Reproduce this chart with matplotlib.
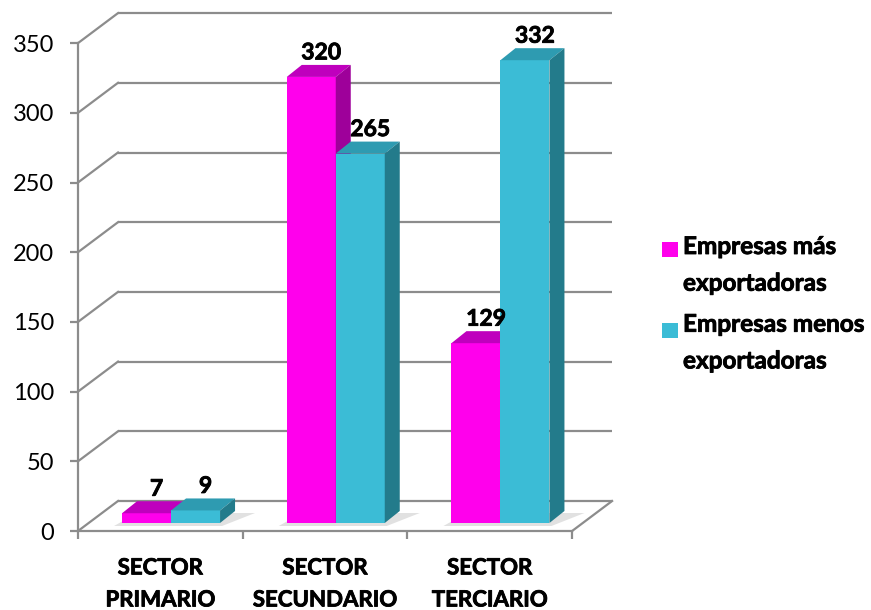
import matplotlib.pyplot as plt
import matplotlib.patheffects as pe
from matplotlib.patches import Polygon, Rectangle

plt.rcParams['font.family'] = ['Lato', 'DejaVu Sans']

# datos
sectores = ['SECTOR\nPRIMARIO', 'SECTOR\nSECUNDARIO', 'SECTOR\nTERCIARIO']
mas_export = [7, 320, 129]
menos_export = [9, 265, 332]
series = [['Empresas más', 'exportadoras'], ['Empresas menos', 'exportadoras']]
yticks = [0, 50, 100, 150, 200, 250, 300, 350]

# colores de cada serie: frente, tapa, lateral
colores = [('#ff00ec', '#bf00bd', '#9e009a'),
           ('#3bbcd6', '#2e9bb1', '#237b8b')]
gris = '#8c8c8c'
# engrosa un poco el texto en negrita
grueso = [pe.withStroke(linewidth=0.6, foreground='black')]

W, H = 871, 610
fig = plt.figure(figsize=(W / 100, H / 100), dpi=100)

# escala en pixeles del area de trazado
px_x = 164.7      # pixeles por categoria
px_y = 1.394      # pixeles por unidad
x0_px, y0_px = 78, 531
xlim = (-0.05, 3.3)
ylim = (-15, 375)
izq = x0_px + xlim[0] * px_x
der = x0_px + xlim[1] * px_x
abajo = y0_px - ylim[0] * px_y
arriba = y0_px - ylim[1] * px_y
ax = fig.add_axes([izq / W, 1 - abajo / H, (der - izq) / W, (abajo - arriba) / H])
ax.set_xlim(xlim)
ax.set_ylim(ylim)

# profundidad de las paredes y de las barras
DX, DY = 40 / px_x, 30 / px_y
OX, OY = 10.7 / px_x, 8 / px_y
BX, BY = 15 / px_x, 12 / px_y
ancho = 49 / px_x
ncat = len(sectores)

# pared del fondo y pared lateral
for v in yticks:
    ax.plot([DX, ncat + DX], [v + DY, v + DY], color=gris, lw=1.6, zorder=1,
            solid_capstyle='butt')
    ax.plot([0, DX], [v, v + DY], color=gris, lw=1.6, zorder=1)
# piso
ax.plot([ncat, ncat + DX], [0, DY], color=gris, lw=1.6, zorder=1)

for i in range(ncat):
    centro = i + 0.5 + OX
    # sombra bajo el par de barras
    xl, xr = centro - ancho, centro + ancho
    sombra = Polygon([(xl - 8 / px_x, OY - 3 / px_y), (xr + 2 / px_x, OY - 3 / px_y),
                      (xr + BX + 20 / px_x, OY + BY - 2 / px_y), (xl + BX, OY + BY - 2 / px_y)],
                     closed=True, facecolor='#bdbdbd', edgecolor='none', alpha=0.45, zorder=2)
    ax.add_patch(sombra)
    for s, valores in enumerate([mas_export, menos_export]):
        v = valores[i]
        x = centro - ancho + s * ancho
        frente, tapa, lado = colores[s]
        ax.bar(x, v, width=ancho, bottom=OY, align='edge', color=frente,
               edgecolor='none', zorder=3 + s)
        ax.add_patch(Polygon([(x, OY + v), (x + ancho, OY + v),
                              (x + ancho + BX, OY + v + BY), (x + BX, OY + v + BY)],
                             closed=True, facecolor=tapa, edgecolor='none', zorder=3 + s))
        ax.add_patch(Polygon([(x + ancho, OY), (x + ancho + BX, OY + BY),
                              (x + ancho + BX, OY + v + BY), (x + ancho, OY + v)],
                             closed=True, facecolor=lado, edgecolor='none', zorder=3 + s))
        ax.text(x + ancho / 2 + 10 / px_x, OY + v + BY + 12 / px_y, str(v),
                ha='center', va='center', fontsize=16.5, fontweight='bold', zorder=6,
                path_effects=grueso)

# ejes frontales
for lado in ['top', 'right']:
    ax.spines[lado].set_visible(False)
ax.spines['left'].set_position(('data', 0))
ax.spines['left'].set_bounds(0, 350)
ax.spines['bottom'].set_position(('data', 0))
ax.spines['bottom'].set_bounds(0, ncat)
for lado in ['left', 'bottom']:
    ax.spines[lado].set_color(gris)
    ax.spines[lado].set_linewidth(1.6)
    ax.spines[lado].set_zorder(1)

ax.set_yticks(yticks)
ax.tick_params(axis='y', length=6, width=1.6, color=gris, pad=11, labelsize=17)
ax.set_xticks([i + 0.5 for i in range(ncat)], sectores)
ax.set_xticks(range(ncat + 1), minor=True)
ax.tick_params(axis='x', which='major', length=0, pad=19, labelsize=16)
ax.tick_params(axis='x', which='minor', length=6, width=1.6, color=gris)
for lbl in ax.get_xticklabels():
    lbl.set_fontweight('bold')
    lbl.set_linespacing(1.65)
    lbl.set_path_effects(grueso)

# leyenda
for s, lineas in enumerate(series):
    y_sq = [242, 322.5][s]
    base = [254, 331.7][s]
    fig.patches.append(Rectangle((662 / W, 1 - (y_sq + 15) / H), 16 / W, 15 / H,
                                 transform=fig.transFigure, facecolor=colores[s][0],
                                 edgecolor='none'))
    for k, texto in enumerate(lineas):
        fig.text(683 / W, 1 - (base + 36.7 * k) / H, texto, ha='left', va='baseline',
                 fontsize=17.5, fontweight='bold', path_effects=grueso)

fig.savefig('out.png', dpi=100)
